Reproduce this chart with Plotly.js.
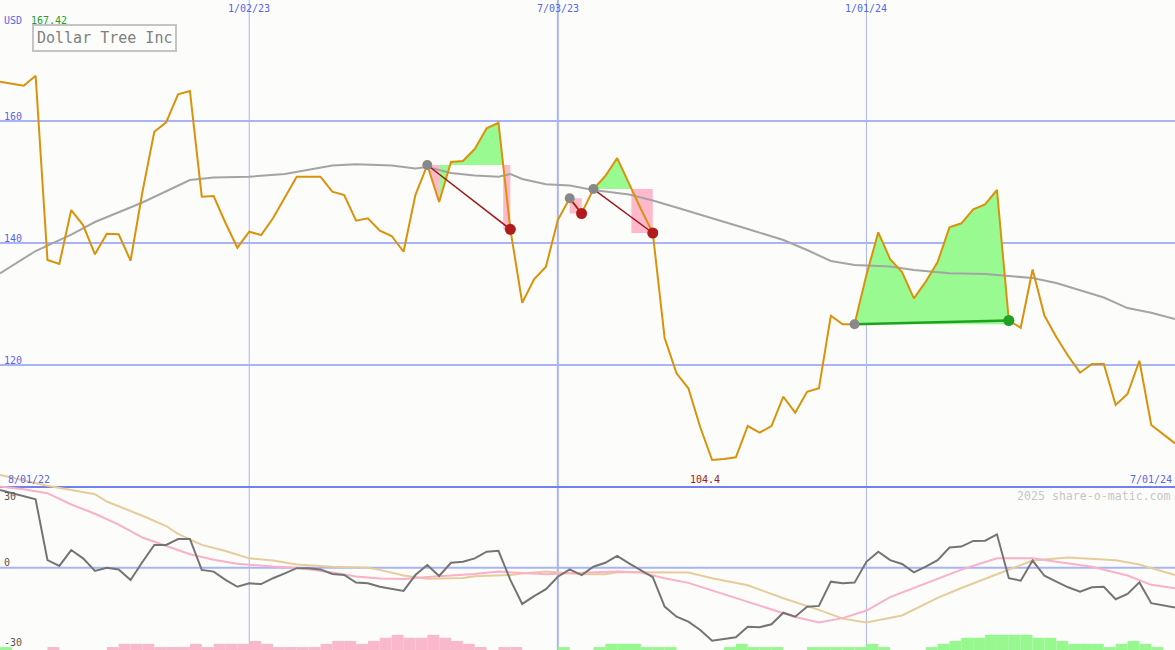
<!DOCTYPE html>
<html><head><meta charset="utf-8">
<script src="https://cdn.plot.ly/plotly-3.0.1.min.js"></script>
<style>html,body{margin:0;padding:0;background:#fcfdfa;}#chart{width:1175px;height:650px;}</style>
</head><body><div id="chart"></div>
<script>
// ---------- data ----------
const startDate = '2022-08-08';   // first weekly close
const company = 'Dollar Tree Inc';
const currency = 'USD';
const price = [166.44,166.15,165.79,167.42,137.21,136.56,145.41,142.95,138.15,141.52,
141.43,137.10,148.36,158.25,159.79,164.38,164.92,147.59,147.70,143.28,
139.23,141.85,141.31,144.05,147.54,150.87,150.87,150.87,148.41,147.87,
143.66,144.05,142.02,141.15,138.57,147.87,152.79,146.72,153.28,153.44,
155.41,158.80,159.72,142.25,130.21,134.05,136.11,143.77,147.33,144.84,
148.85,150.98,153.93,149.67,145.57,141.64,124.43,118.64,116.18,109.79,
104.43,104.59,104.87,110.00,108.90,110.00,114.80,112.18,115.62,116.18,
128.08,126.67,126.67,134.75,141.75,137.33,135.25,130.93,133.66,136.89,
142.57,143.23,145.52,146.34,148.69,127.30,126.10,135.66,128.11,124.59,
121.48,118.74,120.16,120.16,113.44,115.25,120.70,110.16,108.61,107.16];
const maWeek = [0,3,6,8,12,15,16,18,21,24,26,28,30,33,35,36,38,40,42,43,44,46,48,50,53,55,57,60,63,66,68,70,72,75,77,80,83,85,87,89,91,93,95,97,99];
const maVals = [135.03,138.69,141.39,143.44,146.64,149.34,150.33,150.74,150.87,151.31,151.97,152.70,152.90,152.70,152.21,152.46,151.48,151.07,150.87,151.31,150.49,149.62,149.43,148.69,147.95,146.97,145.82,144.10,142.30,140.49,138.85,137.05,136.39,136.15,135.57,135.03,134.92,134.59,134.26,133.44,132.30,131.07,129.34,128.57,127.54];
const oscVals = [31.7,30.5,29.1,27.9,3.1,0.7,7.2,3.8,-1.3,0.0,
-0.7,-5.0,2.3,9.3,9.3,11.7,11.7,-0.9,-1.6,-5.0,
-7.8,-6.4,-6.7,-4.3,-2.3,-0.2,-0.2,-0.7,-2.6,-3.0,
-6.1,-6.4,-7.8,-8.5,-9.5,-3.0,1.1,-3.4,2.0,2.4,
3.8,6.5,6.9,-5.0,-14.8,-11.6,-8.8,-3.7,-0.7,-3.0,
0.4,2.0,4.8,1.8,-0.9,-3.9,-15.9,-20.0,-22.0,-25.4,
-29.8,-29.2,-28.4,-24.1,-24.3,-23.1,-18.4,-20.0,-15.9,-15.6,
-5.7,-6.4,-6.1,2.4,6.5,3.1,1.5,-1.9,0.4,3.1,
8.2,8.6,10.9,11.0,13.6,-4.3,-5.3,2.9,-3.3,-5.7,
-8.0,-9.8,-8.0,-7.8,-12.9,-10.7,-6.0,-14.5,-15.5,-16.3];
const pinkWeek = [0,2,4,6,8,10,12,14,16,18,20,23,25,28,30,32,34,36,38,40,42,44,46,48,50,52,54,56,58,61,64,67,69,71,73,75,78,81,84,87,89,92,95,97,99];
const pinkVals = [33.1,32.0,30.4,25.8,22.0,17.6,12.3,8.8,5.5,3.2,1.6,0.5,0.0,-2.0,-3.6,-4.4,-4.6,-3.8,-3.3,-2.6,-1.6,-2.3,-2.7,-2.3,-2.0,-1.6,-2.0,-4.3,-6.2,-10.8,-15.3,-20.1,-22.4,-20.6,-17.5,-12.0,-6.4,-0.8,3.8,3.8,2.4,0.4,-3.2,-7.0,-8.4];
const tanWeek = [0,4,8,9,12,14,15,17,19,21,23,25,28,31,32,34,36,39,40,43,44,46,48,49,51,52,54,58,60,63,66,69,71,73,76,79,81,84,87,90,94,96,99];
const tanVals = [37.8,33.4,30.0,27.0,21.2,17.0,13.8,9.3,6.8,3.8,2.9,1.3,0.4,0.0,-0.9,-3.2,-4.5,-4.2,-3.5,-3.0,-2.4,-1.6,-2.3,-2.7,-2.7,-1.9,-1.9,-2.0,-4.3,-7.2,-12.5,-17.2,-20.8,-22.4,-19.5,-12.3,-8.3,-2.8,2.9,4.2,3.0,1.3,-3.0];
const histVals = [1.2,0,0,0,-1.2,0,0,0,0,-1.2,
-2.5,-2.5,-2.5,-1.2,-1.2,-1.2,-2.5,-1.2,-2.5,-2.5,
-2.5,-3.7,-2.5,-1.2,-1.2,-1.2,-1.2,-2.5,-3.7,-3.7,
-2.5,-3.7,-5.0,-6.2,-5.0,-5.0,-6.2,-5.0,-3.7,-2.5,
-1.2,0,-1.2,-1.2,0,0,0,1.2,0,0,
1.2,2.5,2.5,2.5,1.2,1.2,1.2,0,0,0,
0,1.2,2.5,1.2,1.2,1.2,0,0,1.2,1.2,
1.2,1.2,1.2,2.5,1.2,0,0,0,1.2,2.5,
3.7,5.0,5.0,6.2,6.2,6.2,6.2,5.0,5.0,3.7,
2.5,2.5,2.5,1.2,2.5,3.7,2.5,1.2,0,0];
const tradeEntry = [36,48,50,72];
const tradeExit  = [43,49,55,85];
const gridDates  = ['2023-01-02','2023-07-03','2024-01-01'];
const gridLabels = ['1/02/23','7/03/23','1/01/24'];
const gridWidths = [1,2,1];
const priceTicks = [120,140,160];
const oscTickVals = [29.0,0,-30.6];
const oscTickText = ['30','0','-30'];
const startLabel = '8/01/22', endLabel = '7/01/24';
const watermark = '2025 share-o-matic.com';

// ---------- helpers ----------
const WEEK = 7*864e5;
const t0 = Date.parse(startDate+'T00:00:00Z');
const fmt = i => new Date(t0 + i*WEEK).toISOString().slice(0,19).replace('T',' ');
const xs = price.map((_,i)=>fmt(i));
const H = 650;
const py = p => 1 - p/H;              // pixel row -> paper
const priceRange = [73.28, 179.84];
const oscRange = [-33.6, 231.7];
const FONT = 'DejaVu Sans Mono';
const BLUE = '#5566ee';

// ---------- trade fills ----------
const G={x:[],y:[]}, P={x:[],y:[]};
function poly(t, pts){ pts.forEach(p=>{t.x.push(fmt(p[0])); t.y.push(p[1]);}); t.x.push(null); t.y.push(null); }
tradeEntry.forEach((e,k)=>{
  const x = tradeExit[k], L = price[e], pe = price[x];
  let m = x;
  if (pe < L){ m = e; for(let j=e;j<x;j++) if(price[j]>=L) m=j; }
  for(let j=e;j<Math.min(m,x);j++){
    const p0=price[j], p1=price[j+1];
    if(p0>=L && p1>=L) poly(G,[[j,L],[j,p0],[j+1,p1],[j+1,L]]);
    else if(p0<L && p1<L) poly(p1>p0?G:P,[[j,L],[j,p0],[j+1,p1],[j+1,L]]);
    else { const c = j+(p0-L)/(p0-p1);
      if(p0>=L){ poly(G,[[j,L],[j,p0],[c,L]]); poly(P,[[c,L],[j+1,p1],[j+1,L]]); }
      else { poly(G,[[j,L],[j,p0],[c,L]]); poly(G,[[c,L],[j+1,p1],[j+1,L]]); } }
  }
  if(pe < L){ const p0=price[m], p1=price[m+1]; const c = m+(p0-L)/(p0-p1);
    if(c>m) poly(G,[[m,L],[m,p0],[c,L]]);
    poly(P,[[c,L],[c,pe],[x,pe],[x,L]]); }
});
const lossLine={x:[],y:[]}, winLine={x:[],y:[]}, lossDot={x:[],y:[]}, winDot={x:[],y:[]};
tradeEntry.forEach((e,k)=>{
  const x=tradeExit[k]; const win = price[x]>=price[e];
  const t = win?winLine:lossLine, d = win?winDot:lossDot;
  t.x.push(xs[e],xs[x],null); t.y.push(price[e],price[x],null);
  d.x.push(xs[x]); d.y.push(price[x]);
});

// ---------- traces ----------
const traces = [
  {type:'bar', x:xs, y:histVals.map(Math.abs), base:oscRange[0], offset:0, width:WEEK, yaxis:'y2',
   marker:{color:histVals.map(v=>v>0?'#98f890':'#f9b8cc'), line:{width:0}}},
  {x:tanWeek.map(fmt), y:tanVals, mode:'lines', yaxis:'y2', line:{color:'#e6cc9a', width:2}},
  {x:pinkWeek.map(fmt), y:pinkVals, mode:'lines', yaxis:'y2', line:{color:'#f9b0c8', width:2}},
  {x:xs, y:oscVals, mode:'lines', yaxis:'y2', line:{color:'#747474', width:2}},
  {x:G.x, y:G.y, mode:'lines', fill:'toself', fillcolor:'#98fa90', line:{width:0}},
  {x:P.x, y:P.y, mode:'lines', fill:'toself', fillcolor:'#ffb8cc', line:{width:0}},
  {x:maWeek.map(fmt), y:maVals, mode:'lines', line:{color:'#a4a4a4', width:2}},
  {x:xs, y:price, mode:'lines', line:{color:'#d9920a', width:2}},
  {x:lossLine.x, y:lossLine.y, mode:'lines', line:{color:'#a01818', width:1.5}},
  {x:winLine.x, y:winLine.y, mode:'lines', line:{color:'#22a022', width:2.5}},
  {x:tradeEntry.map(i=>xs[i]), y:tradeEntry.map(i=>price[i]), mode:'markers', marker:{color:'#888888', size:10}},
  {x:lossDot.x, y:lossDot.y, mode:'markers', marker:{color:'#b01c1c', size:11}},
  {x:winDot.x, y:winDot.y, mode:'markers', marker:{color:'#22a022', size:11}}
];

// ---------- shapes ----------
const shapes = [];
priceTicks.forEach(v=>shapes.push({type:'line', layer:'below', xref:'paper', x0:0, x1:1, yref:'y', y0:v, y1:v, line:{color:'#a8b4f6', width:2}}));
shapes.push({type:'line', layer:'below', xref:'paper', x0:0, x1:1, yref:'y2', y0:0, y1:0, line:{color:'#a8b4f6', width:2}});
gridDates.forEach((d,k)=>shapes.push({type:'line', layer:'below', x0:d, x1:d, yref:'paper', y0:0, y1:1, line:{color:'#a8b4f6', width:gridWidths[k]}}));
shapes.push({type:'line', layer:'below', xref:'paper', x0:0, x1:1, yref:'paper', y0:py(487), y1:py(487), line:{color:'#7080ee', width:2}});

// ---------- annotations ----------
const ann = [];
const txt = (o)=>Object.assign({showarrow:false, font:{family:FONT, size:10, color:BLUE}}, o);
priceTicks.forEach(v=>ann.push(txt({text:String(v), xref:'paper', x:0.002, xanchor:'left', yref:'y', y:v, yanchor:'bottom', yshift:-3})));
oscTickVals.forEach((v,k)=>ann.push(txt({text:oscTickText[k], xref:'paper', x:0.002, xanchor:'left', yref:'y2', y:v, yanchor:k===1?'bottom':'middle', yshift:k===1?-2:0, font:{family:FONT,size:10,color:'#555555'}})));
gridDates.forEach((d,k)=>ann.push(txt({text:gridLabels[k], x:d, xanchor:'center', yref:'paper', y:py(8), yanchor:'middle'})));
ann.push(txt({text:startLabel, xref:'paper', x:0.005, xanchor:'left', yref:'paper', y:py(479), yanchor:'middle'}));
ann.push(txt({text:endLabel, xref:'paper', x:0.999, xanchor:'right', yref:'paper', y:py(479), yanchor:'middle'}));
ann.push(txt({text:currency, xref:'paper', x:0.002, xanchor:'left', yref:'paper', y:py(20), yanchor:'middle'}));
const maxV = Math.max(...price), minV = Math.min(...price), minI = price.indexOf(minV);
ann.push(txt({text:maxV.toFixed(2), xref:'paper', x:29/1175, xanchor:'left', yref:'paper', y:py(20), yanchor:'middle', font:{family:FONT,size:10,color:'#22a022'}}));
ann.push(txt({text:minV.toFixed(1), x:xs[minI], xanchor:'center', xshift:-7, yref:'paper', y:py(479), yanchor:'middle', font:{family:FONT,size:10,color:'#a01818'}}));
ann.push(txt({text:watermark, xref:'paper', x:0.998, xanchor:'right', yref:'paper', y:py(496), yanchor:'middle', font:{family:FONT,size:11.6,color:'#c6c6c6'}}));
ann.push(txt({text:company, xref:'paper', x:32/1175, xanchor:'left', yref:'paper', y:py(23.5), yanchor:'top',
  font:{family:FONT,size:15,color:'#808080'}, bordercolor:'#c4c4c4', borderwidth:2, borderpad:3, bgcolor:'#fcfdfa'}));

const layout = {
  width:1175, height:650, margin:{l:0,r:0,t:0,b:0}, showlegend:false, hovermode:false,
  paper_bgcolor:'#fcfdfa', plot_bgcolor:'#fcfdfa',
  xaxis:{type:'date', range:[fmt(0), fmt(price.length-1)], showgrid:false, zeroline:false, showticklabels:false, showline:false},
  yaxis:{range:priceRange, showgrid:false, zeroline:false, showticklabels:false, showline:false},
  yaxis2:{range:oscRange, overlaying:'y', showgrid:false, zeroline:false, showticklabels:false, showline:false},
  shapes:shapes, annotations:ann
};
Plotly.newPlot('chart', traces, layout, {staticPlot:true, displayModeBar:false});
</script></body></html>
